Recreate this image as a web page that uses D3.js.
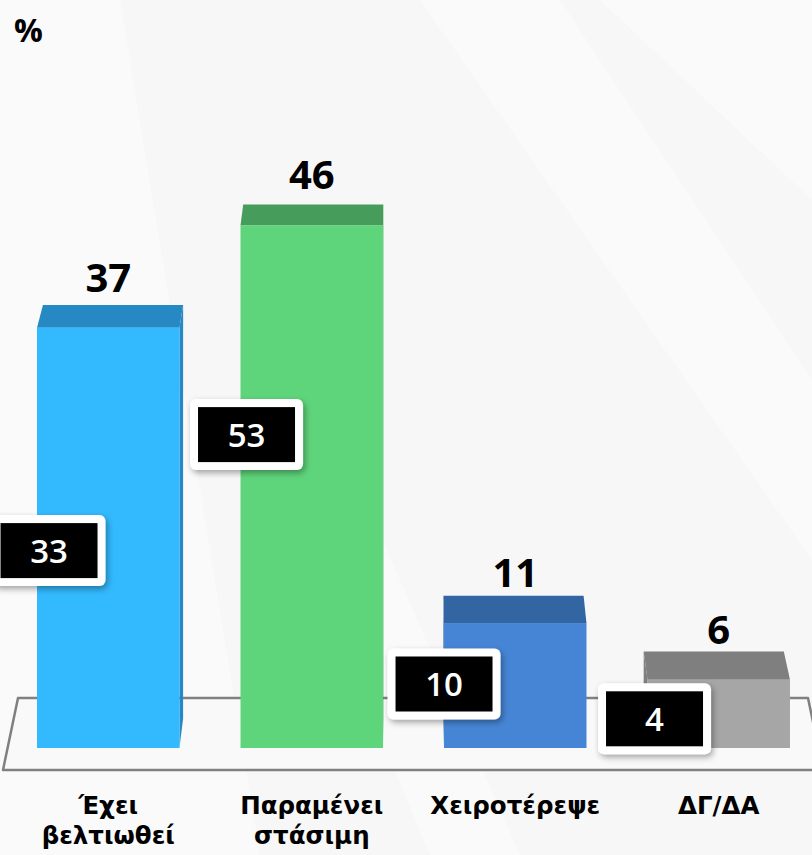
<!DOCTYPE html>
<html>
<head>
<meta charset="utf-8">
<script src="https://cdn.jsdelivr.net/npm/d3@7"></script>
<style>
  html, body { margin: 0; padding: 0; background: #f7f7f7; }
  svg { display: block; }
</style>
</head>
<body>
<div id="wrapper"></div>
<script>
// data
const categories = ["Έχει βελτιωθεί", "Παραμένει στάσιμη", "Χειροτέρεψε", "ΔΓ/ΔΑ"]
const labelLines = [["Έχει", "βελτιωθεί"], ["Παραμένει", "στάσιμη"], ["Χειροτέρεψε"], ["ΔΓ/ΔΑ"]]
const currentValues = [37, 46, 11, 6]
const previousValues = [33, 53, 10, 4]
const frontColors = ["#33b9fd", "#5ed47b", "#4685d5", "#a6a6a6"]
const topColors = ["#2689c3", "#469d5b", "#3465a3", "#7f7f7f"]

const width = 812
const height = 855
const baseY = 748

const svg = d3.select('#wrapper')
  .append('svg')
  .attr('width', width)
  .attr('height', height)

const defs = svg.append('defs')
const shadow = defs.append('filter').attr('id', 'shadow')
  .attr('x', '-20%').attr('y', '-20%').attr('width', '150%').attr('height', '160%')
shadow.append('feDropShadow')
  .attr('dx', 2).attr('dy', 3).attr('stdDeviation', 3)
  .attr('flood-color', '#000').attr('flood-opacity', 0.35)

// background with soft light streaks
svg.append('rect').attr('width', width).attr('height', height).attr('fill', '#f7f7f7')
const streaks = [
  [[0, 0], [120, 0], [260, 855], [0, 855]],
  [[420, 0], [560, 0], [812, 380], [812, 560]],
  [[600, 0], [812, 0], [812, 200]],
  [[250, 420], [330, 420], [520, 855], [430, 855]]
]
svg.selectAll('.streak').data(streaks).enter().append('polygon')
  .attr('points', d => d.map(p => p.join(',')).join(' '))
  .attr('fill', '#ffffff').attr('opacity', 0.4)

const xScale = d3.scaleBand()
  .domain(categories)
  .range([6.5, 820.5])
  .paddingInner(0.3)
  .paddingOuter(0.15)

const yScale = d3.scaleLinear().domain([0, 50]).range([baseY, 180])
const boxScale = d3.scaleLinear().domain([0, 100]).range([742, 162])

// perspective: back edges shrink towards a vanishing point above the chart
const vp = [406, -1087]
const k = 0.984
const back = (x, y) => [vp[0] + (x - vp[0]) * k, vp[1] + (y - vp[1]) * k]

// floor
const floorPts = [[18, 698], [808, 698], [823, 770], [3, 770]]
svg.append('polygon')
  .attr('points', floorPts.map(p => p.join(',')).join(' '))
  .attr('fill', '#f9f9f9')
  .attr('stroke', '#808080')
  .attr('stroke-width', 2.5)
  .attr('stroke-linejoin', 'round')

const bars = svg.append('g')
const barGroups = bars.selectAll('g')
  .data(categories)
  .enter().append('g')

barGroups.each(function (c, i) {
  const g = d3.select(this)
  const x0 = xScale(c)
  const x1 = x0 + xScale.bandwidth()
  const yT = yScale(currentValues[i])
  const bl = back(x0, yT), br = back(x1, yT)
  const bbr = back(x1, baseY), bbl = back(x0, baseY)
  // side faces (thin)
  if (br[0] > x1) {
    g.append('polygon')
      .attr('points', [[x1, yT], br, bbr, [x1, baseY]].map(p => p.join(',')).join(' '))
      .attr('fill', topColors[i])
  }
  if (bl[0] < x0) {
    g.append('polygon')
      .attr('points', [[x0, yT], bl, bbl, [x0, baseY]].map(p => p.join(',')).join(' '))
      .attr('fill', topColors[i])
  }
  g.append('polygon')
    .attr('points', [[x0, yT], bl, br, [x1, yT]].map(p => p.join(',')).join(' '))
    .attr('fill', topColors[i])
  g.append('rect')
    .attr('x', x0)
    .attr('y', yT)
    .attr('width', x1 - x0)
    .attr('height', baseY - yT)
    .attr('fill', frontColors[i])
})

// value labels
svg.append('g').selectAll('text')
  .data(categories)
  .enter().append('text')
  .attr('x', c => xScale(c) + xScale.bandwidth() / 2)
  .attr('y', (c, i) => yScale(currentValues[i]) - 36)
  .attr('text-anchor', 'middle')
  .style('font-family', '"Open Sans", sans-serif')
  .style('font-weight', 'bold')
  .style('font-size', '40px')
  .attr('fill', '#000')
  .text((c, i) => currentValues[i])

// previous-wave boxes
const boxW = 113, boxH = 71, border = 8
const boxOffsets = [12, 6, 0, 7]
const boxes = svg.append('g').selectAll('g')
  .data(categories)
  .enter().append('g')
  .attr('transform', (c, i) => `translate(${xScale(c) + boxOffsets[i] - boxW / 2}, ${boxScale(previousValues[i]) - boxH / 2})`)

boxes.append('rect')
  .attr('width', boxW).attr('height', boxH).attr('rx', 6)
  .attr('fill', '#fff')
  .attr('filter', 'url(#shadow)')
boxes.append('rect')
  .attr('x', border).attr('y', border)
  .attr('width', boxW - 2 * border).attr('height', boxH - 2 * border)
  .attr('fill', '#000')
boxes.append('text')
  .attr('x', boxW / 2)
  .attr('y', boxH / 2 + 12)
  .attr('text-anchor', 'middle')
  .attr('fill', '#fff')
  .style('font-family', '"Open Sans", sans-serif')
  .style('font-weight', 600)
  .style('font-size', '33px')
  .text((c, i) => previousValues[i])

// category labels
const catLabels = svg.append('g').selectAll('text')
  .data(categories)
  .enter().append('text')
  .attr('x', c => xScale(c) + xScale.bandwidth() / 2)
  .attr('y', 814)
  .attr('text-anchor', 'middle')
  .style('font-family', '"DejaVu Sans", sans-serif')
  .style('font-weight', 'bold')
  .style('font-size', '24.5px')
  .attr('fill', '#000')

catLabels.selectAll('tspan')
  .data((c, i) => labelLines[i])
  .enter().append('tspan')
  .attr('x', function () { return d3.select(this.parentNode).attr('x') })
  .attr('dy', (d, j) => j === 0 ? 0 : 30)
  .text(d => d)

svg.append('text')
  .attr('x', 14)
  .attr('y', 42)
  .style('font-family', '"Open Sans", sans-serif')
  .style('font-weight', 'bold')
  .style('font-size', '32px')
  .text('%')
</script>
</body>
</html>
